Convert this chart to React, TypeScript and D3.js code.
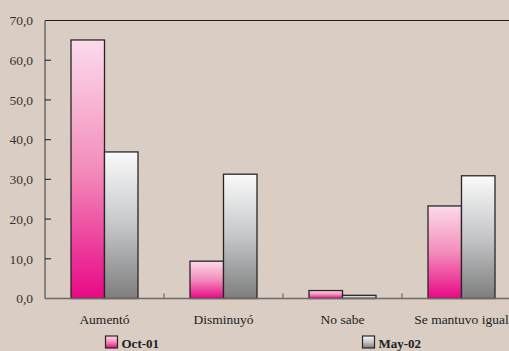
import React from "react";
import * as d3 from "d3";

const categories = ["Aumentó", "Disminuyó", "No sabe", "Se mantuvo igual"];
const seriesNames = ["Oct-01", "May-02"];
const oct01 = [65.1, 9.4, 2.0, 23.3];
const may02 = [36.9, 31.3, 0.8, 30.9];
const yTicks = [0, 10, 20, 30, 40, 50, 60, 70];

const W = 509;
const H = 351;
const left = 45;
const right = 521;
const top = 20.5;
const bottom = 298.5;
const font = "'Liberation Serif', 'Times New Roman', serif";

export default function App() {
  const x = d3.scaleBand<string>().domain(categories).range([left, right]).paddingInner(0).paddingOuter(0);
  const y = d3.scaleLinear().domain([0, 70]).range([bottom, top]);
  const barW = 33.5;
  const series = [oct01, may02];
  const fills = ["url(#gPink)", "url(#gGray)"];
  const fmt = (v: number) => d3.format(".1f")(v).replace(".", ",");

  return (
    <svg width={W} height={H} style={{ position: "absolute", left: 0, top: 0, display: "block" }}>
      <defs>
        <linearGradient id="gPink" x1="0" y1="0" x2="0" y2="1">
          <stop offset="0" stopColor="#fcdbea" />
          <stop offset="0.5" stopColor="#f38dbb" />
          <stop offset="1" stopColor="#e80785" />
        </linearGradient>
        <linearGradient id="gGray" x1="0" y1="0" x2="0" y2="1">
          <stop offset="0" stopColor="#fafafa" />
          <stop offset="0.5" stopColor="#c4c6c8" />
          <stop offset="1" stopColor="#7e7e7e" />
        </linearGradient>
      </defs>
      <rect x={0} y={0} width={W} height={H} fill="#d9cdc4" />
      {/* top border */}
      <line x1={left} x2={W} y1={top} y2={top} stroke="#231f20" strokeWidth={1.2} />
      {/* bars */}
      {categories.map((c, i) => {
        const cx = (x(c) as number) + x.bandwidth() / 2;
        return series.map((s, k) => {
          const x0 = cx - barW + k * barW;
          const yv = y(s[i]);
          return (
            <rect
              key={c + k}
              x={x0}
              y={yv}
              width={barW}
              height={bottom - yv}
              fill={fills[k]}
              stroke="#2a2626"
              strokeWidth={1.3}
            />
          );
        });
      })}
      {/* bottom axis */}
      <line x1={left} x2={W} y1={bottom} y2={bottom} stroke="#6e6a68" strokeWidth={1.5} />
      {categories.slice(1).map((c) => (
        <line key={c} x1={x(c)} x2={x(c)} y1={bottom} y2={bottom - 5} stroke="#6e6a68" strokeWidth={1.2} />
      ))}
      {/* left axis */}
      <line x1={left} x2={left} y1={top} y2={bottom} stroke="#6e6a68" strokeWidth={1.5} />
      {yTicks.map((t) => (
        <g key={t}>
          {t > 0 && t < 70 && <line x1={left} x2={left + 6} y1={y(t)} y2={y(t)} stroke="#333" strokeWidth={1.2} />}
          <text x={33} y={y(t)} dy="0.35em" textAnchor="end" fontFamily={font} fontSize={13.5} fill="#333">
            {fmt(t)}
          </text>
        </g>
      ))}
      {/* category labels */}
      {categories.map((c) => (
        <text
          key={c}
          x={(x(c) as number) + x.bandwidth() / 2}
          y={324}
          textAnchor="middle"
          fontFamily={font}
          fontSize={13.5}
          fill="#222"
        >
          {c}
        </text>
      ))}
      {/* legend */}
      {seriesNames.map((n, k) => {
        const lx = k === 0 ? 105.5 : 362.5;
        return (
          <g key={n}>
            <rect x={lx} y={336} width={12} height={12} fill={fills[k]} stroke="#2a2626" strokeWidth={1.2} />
            <text x={lx + 16} y={347.5} fontFamily={font} fontSize={13} fontWeight="bold" fill="#222">
              {n}
            </text>
          </g>
        );
      })}
    </svg>
  );
}
